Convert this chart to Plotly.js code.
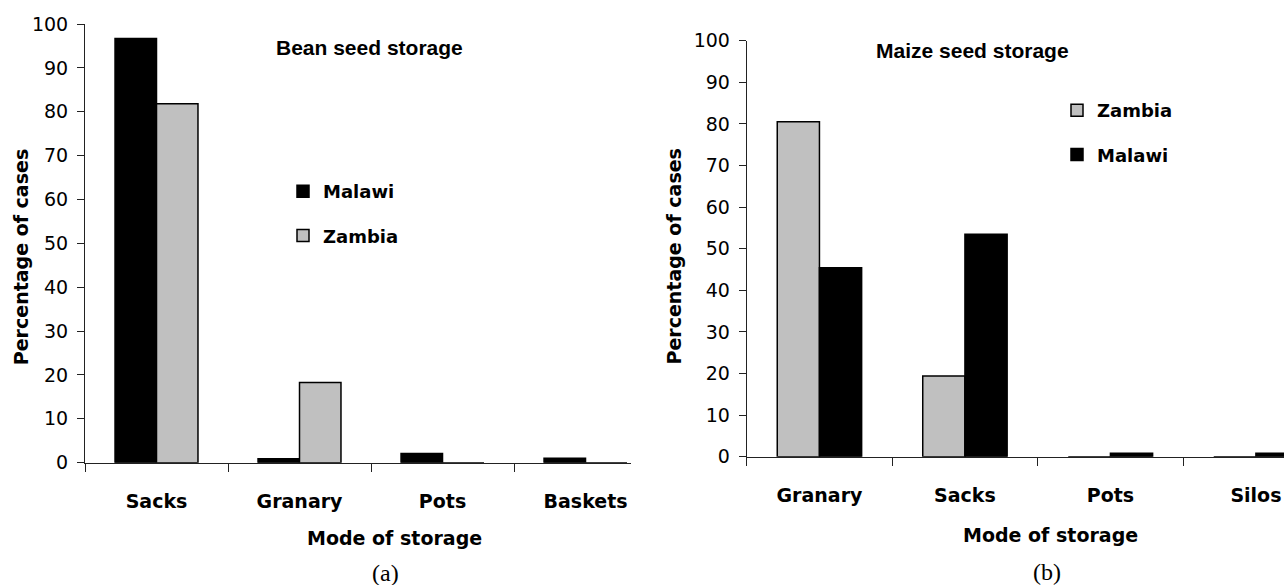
<!DOCTYPE html>
<html>
<head>
<meta charset="utf-8">
<script src="https://cdn.plot.ly/plotly-3.0.1.min.js"></script>
<style>
  html, body { margin: 0; padding: 0; background: #ffffff; }
  #chart { width: 1284px; height: 585px; }
</style>
</head>
<body>
<div id="chart"></div>
<script>
// ---- Data: panel (a) Bean seed storage ----
var beanCategories = ["Sacks", "Granary", "Pots", "Baskets"];
var beanMalawi = [96.7, 0.9, 2.1, 1.0];
var beanZambia = [81.8, 18.3, 0, 0];

// ---- Data: panel (b) Maize seed storage ----
var maizeCategories = ["Granary", "Sacks", "Pots", "Silos"];
var maizeZambia = [80.5, 19.4, 0, 0];
var maizeMalawi = [45.4, 53.5, 0.8, 0.8];

// ---- Text ----
var titleA = "Bean seed storage";
var titleB = "Maize seed storage";
var yTitle = "Percentage of cases";
var xTitle = "Mode of storage";
var panelA = "(a)";
var panelB = "(b)";

var W = 1284, H = 585;
function px(x) { return x / W; }
function py(y) { return 1 - y / H; }

var GRAY = "#c0c0c0";
var BLACK = "#000000";
var AXIS = "#222222";
var FONT = "DejaVu Sans";

function barTrace(name, cats, vals, color, xa, ya, legend, group) {
  return {
    type: "bar",
    name: name,
    x: cats,
    y: vals,
    xaxis: xa,
    yaxis: ya,
    legend: legend,
    legendgroup: group,
    marker: { color: color, line: { color: BLACK, width: 1.5 } },
    hoverinfo: "skip"
  };
}

var data = [
  barTrace("Malawi", beanCategories, beanMalawi, BLACK, "x", "y", "legend", "a1"),
  barTrace("Zambia", beanCategories, beanZambia, GRAY, "x", "y", "legend", "a2"),
  barTrace("Zambia", maizeCategories, maizeZambia, GRAY, "x2", "y2", "legend2", "b1"),
  barTrace("Malawi", maizeCategories, maizeMalawi, BLACK, "x2", "y2", "legend2", "b2")
];

function xAxis(domain, range, anchor) {
  return {
    domain: domain,
    anchor: anchor,
    type: "category",
    range: range,
    tickson: "boundaries",
    ticks: "outside",
    ticklen: 8,
    tickwidth: 1,
    tickcolor: AXIS,
    showline: true,
    linecolor: AXIS,
    linewidth: 1,
    showgrid: false,
    zeroline: false,
    ticklabelstandoff: 21,
    tickfont: { family: FONT, size: 19, weight: "bold", color: BLACK },
    fixedrange: true
  };
}
function yAxis(domain, anchor) {
  return {
    domain: domain,
    anchor: anchor,
    range: [0, 100],
    dtick: 10,
    tick0: 0,
    ticks: "outside",
    ticklen: 7,
    tickwidth: 1,
    tickcolor: AXIS,
    showline: true,
    linecolor: AXIS,
    linewidth: 1,
    showgrid: false,
    zeroline: false,
    ticklabelstandoff: 5,
    tickfont: { family: FONT, size: 19, color: BLACK },
    fixedrange: true
  };
}

function ann(text, x, y, font, extra) {
  var a = {
    text: text, xref: "paper", yref: "paper", x: x, y: y,
    xanchor: "center", yanchor: "middle", showarrow: false, font: font
  };
  if (extra) { for (var k in extra) a[k] = extra[k]; }
  return a;
}

var titleFont = { family: "Liberation Sans", size: 21, weight: "bold", color: BLACK };
var axTitleFont = { family: FONT, size: 19, weight: "bold", color: BLACK };
var panelFont = { family: "Liberation Serif", size: 24, color: BLACK };

var legendStyle = {
  font: { family: FONT, size: 18, weight: "bold", color: BLACK },
  bgcolor: "rgba(0,0,0,0)",
  borderwidth: 0,
  tracegroupgap: 18,
  traceorder: "grouped",
  xanchor: "left",
  yanchor: "top"
};
function legendAt(x, y) {
  var l = {};
  for (var k in legendStyle) l[k] = legendStyle[k];
  l.x = x; l.y = y;
  return l;
}

var layout = {
  width: W,
  height: H,
  margin: { l: 0, r: 0, t: 0, b: 0, pad: 0 },
  paper_bgcolor: "#ffffff",
  plot_bgcolor: "#ffffff",
  font: { family: FONT, color: BLACK },
  barmode: "group",
  bargap: 0.42,
  bargroupgap: 0,
  showlegend: true,
  xaxis: xAxis([px(85), px(631)], [-0.5, 3.318], "y"),
  yaxis: yAxis([py(462.7), py(24)], "x"),
  xaxis2: xAxis([px(746.7), 1], [-0.5, 3.193], "y2"),
  yaxis2: yAxis([py(456.7), py(40.7)], "x2"),
  legend: legendAt(px(283), py(173)),
  legend2: legendAt(px(1057), py(92)),
  annotations: [
    ann(titleA, px(369.5), py(47), titleFont),
    ann(titleB, px(973), py(50), titleFont),
    ann(yTitle, px(20.7), py(257.5), axTitleFont, { textangle: -90 }),
    ann(yTitle, px(673), py(256.5), axTitleFont, { textangle: -90 }),
    ann(xTitle, px(394.5), py(538), axTitleFont),
    ann(xTitle, px(1050), py(535), axTitleFont),
    ann(panelA, px(385), py(573), panelFont),
    ann(panelB, px(1047), py(572), panelFont)
  ]
};

Plotly.newPlot("chart", data, layout, { displayModeBar: false, staticPlot: true });
</script>
</body>
</html>
